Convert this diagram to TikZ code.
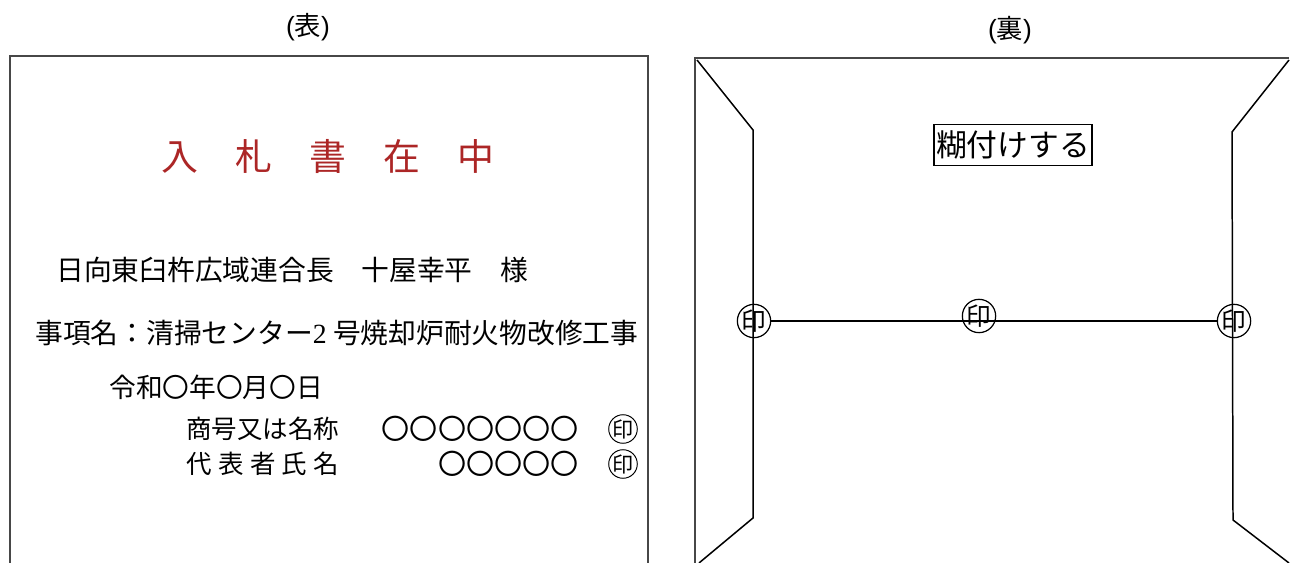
\documentclass[tikz,border=0pt]{standalone}
\usepackage{fontspec}
\setmainfont{Liberation Sans}
\newfontfamily\jpfont{Noto Sans CJK JP}
\newfontfamily\numfont{Liberation Serif}
\usetikzlibrary{positioning}
\definecolor{inkred}{RGB}{172,38,38}
\newcommand{\jpsize}[1]{\jpfont\fontsize{#1}{#1}\selectfont}

\begin{document}
\begin{tikzpicture}[x=0.02cm,y=-0.02cm,
    frame/.style={draw=black!72,line width=1.1pt},
    fold/.style={draw=black,line width=0.85pt},
    txt/.style={inner sep=0pt},
    stamp/.style={circle,draw=black,line width=0.55pt,inner sep=0pt,minimum size=#1},
    stamp/.default=0.55cm]
      \useasboundingbox (0,0) rectangle (1290,563);

      %headings
      \node[txt,font=\fontsize{15}{17}\selectfont] (omote) at (308,27) {({\jpfont 表})};
      \node[txt,font=\fontsize{15}{17}\selectfont] (ura) at (1010,30) {({\jpfont 裏})};

      %front side
      \draw[frame] (10,563) -- (10,56) -- (648,56) -- (648,563);
      \node[txt,inkred,font=\jpsize{21}] (title) at (328,157)
        {入\hspace{1em}札\hspace{1em}書\hspace{1em}在\hspace{1em}中};
      \node[txt,anchor=west,font=\jpsize{15.8}] (addressee) at (56,270)
        {日向東臼杵広域連合長　十屋幸平　様};
      \node[txt,anchor=west,font=\jpsize{15.8}] (subject) at (35,333)
        {事項名：清掃センター{\numfont 2} 号焼却炉耐火物改修工事};
      \node[txt,anchor=west,font=\jpsize{15.2}] (date) at (109,387) {令和〇年〇月〇日};
      \node[txt,anchor=west,font=\jpsize{14.5}] (company) at (186,429) {商号又は名称};
      \node[txt,anchor=east,font=\jpsize{16}] (companyname) at (579,429) {〇〇〇〇〇〇〇};
      \node[stamp,font=\jpsize{12}] (stampA) at (623,429) {印};
      \node[txt,anchor=west,font=\jpsize{14.5}] (rep) at (186,464)
        {代\hspace{.25em}表\hspace{.25em}者\hspace{.25em}氏\hspace{.25em}名};
      \node[txt,anchor=east,font=\jpsize{16}] (repname) at (579,464) {〇〇〇〇〇};
      \node[stamp,font=\jpsize{12}] (stampB) at (623,464) {印};

      %back side
      \draw[frame] (695,563) -- (695,58) -- (1289,58);
      \draw[fold] (697,60) -- (753,130) -- (753,518) -- (699,563);
      \draw[fold] (1289,60) -- (1232,132) -- (1233,520) -- (1289,563);
      \node[draw=black,line width=0.8pt,inner xsep=0.04cm,inner ysep=0.12cm,font=\jpsize{17.5}] (paste) at (1013,145) {糊付けする};

      %seal marks
      \node[stamp=0.62cm,line width=0.7pt,font=\jpsize{14}] (inL) at (754,321) {印};
      \node[stamp=0.62cm,line width=0.7pt,font=\jpsize{14}] (inC) at (979,316) {印};
      \node[stamp=0.62cm,line width=0.7pt,font=\jpsize{14}] (inR) at (1234,321) {印};
      \draw[fold] (inL.east) -- (inR.west);

    \end{tikzpicture}
\end{document}
